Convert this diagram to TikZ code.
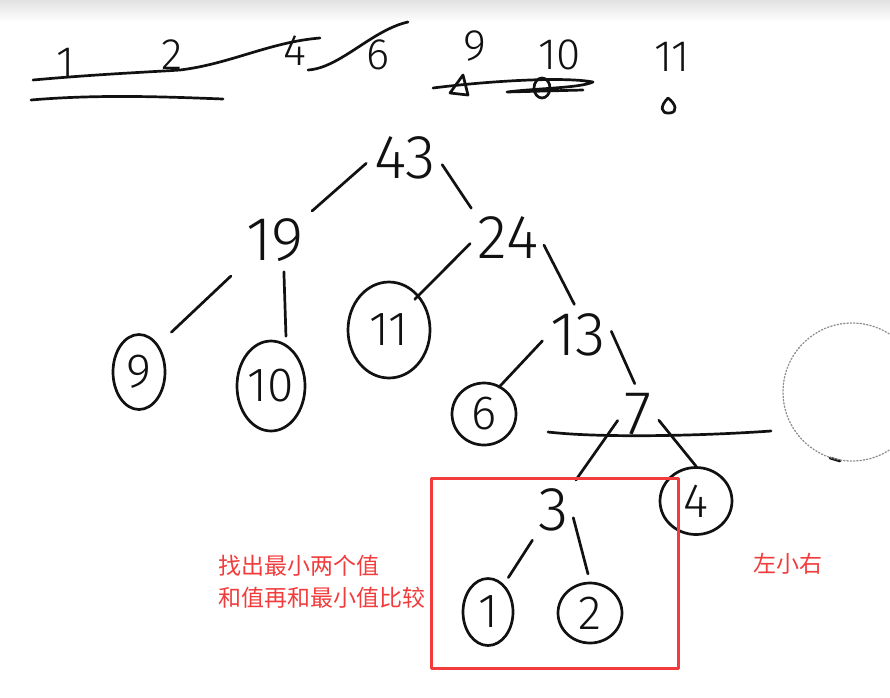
\documentclass[tikz,border=0pt]{standalone}
\usepackage{fontspec}
\setmainfont{Fira Sans}[UprightFont=* Light]
\newfontfamily\cjkfont{Noto Sans CJK SC}
\usetikzlibrary{shapes.geometric}
\definecolor{hfink}{HTML}{111111}
\definecolor{hfred}{HTML}{F23C3C}
\definecolor{hfdot}{HTML}{8C8C8C}
\definecolor{hfbar}{HTML}{E2E2E2}
\tikzset{
  hfsum/.style={
    font=\fontsize{62}{62}\selectfont, text=hfink, inner sep=2pt},
  hfleaf/.style={
    draw=hfink, ellipse, line width=2.7pt, inner sep=0pt,
    font=\fontsize{48}{48}\selectfont, text=hfink},
  hflist/.style={font=\fontsize{44}{44}\selectfont, text=hfink, inner sep=0pt},
  hfedge/.style={draw=hfink, line width=2.7pt, shorten <=8pt, shorten >=8pt},
  hfmark/.style={draw=hfink, line width=2.7pt},
  hfnote/.style={
    font=\cjkfont\fontsize{23}{32}\selectfont, text=hfred,
    anchor=west, align=left},
  every picture/.style={line cap=round, line join=round},
}
\begin{document}
\begin{tikzpicture}[x=1pt, y=-1pt]
\useasboundingbox (0,0) rectangle (890,697);
\shade[top color=hfbar, bottom color=white] (0,0) rectangle (890,22);

% Weights written down first.
\foreach \name/\val/\px/\py in {%
    l1/1/66/63, l2/2/172/55, l4/4/295/51, l6/6/378/55,
    l9/9/475/46, l10/10/560/55, l11/11/672/57} {
  \node[hflist] (\name) at (\px, \py) {\val};
}
\draw[hfmark] (33,80) .. controls (100,74) and (150,72) .. (180,70)
  .. controls (230,64) and (270,42) .. (320,38);
\draw[hfmark] (31,100) .. controls (100,94) and (170,97) .. (223,99);
\draw[hfmark] (308,70) .. controls (340,68) and (372,30) .. (408,22);
\draw[hfmark] (463,75) -- (450,93) -- (468,95) -- cycle;
\draw[hfmark] (433,88) .. controls (480,82) and (560,76) .. (593,82)
  .. controls (580,88) and (540,88) .. (507,92) -- (583,90);
\draw[hfmark] (542,88) ellipse (8 and 10);
\draw[hfmark] (668,98) .. controls (676,104) and (678,112) .. (670,113)
  .. controls (660,114) and (660,106) .. (668,98);

% Sums.
\node[hfsum] (n43) at (405,158) {43};
\node[hfsum] (n19) at (275,240) {19};
\node[hfsum] (n24) at (508,238) {24};
\node[hfsum] (n13) at (578,335) {13};
\node[hfsum] (n7)  at (638,414) {7};
\node[hfsum] (n3)  at (554,510) {3};

% Leaves.
\node[hfleaf, minimum width=52pt, minimum height=75pt] (n9)  at (139,372) {9};
\node[hfleaf, minimum width=68pt, minimum height=90pt] (n10) at (271,386) {10};
\node[hfleaf, minimum width=82pt, minimum height=96pt] (n11) at (389,330) {11};
\node[hfleaf, minimum width=64pt, minimum height=62pt] (n6)  at (484,414) {6};
\node[hfleaf, minimum width=72pt, minimum height=67pt] (n4)  at (696,501) {4};
\node[hfleaf, minimum width=50pt, minimum height=67pt] (n1)  at (488,612) {1};
\node[hfleaf, minimum width=64pt, minimum height=60pt] (n2)  at (590,613) {2};

% Branches.
\draw[hfedge] (n43.west) -- (n19.north east);
\draw[hfedge] (n43.east) -- (n24.north west);
\draw[hfedge, shorten <=18pt, shorten >=18pt] (n19.south west) -- (n9.north east);
\draw[hfedge] (n19.-70) -- (n10.70);
\draw[hfedge, shorten >=-6pt] (n24.west) -- (n11.north east);
\draw[hfedge] (n24.east) -- (n13.north);
\draw[hfedge, shorten >=-2pt] (n13.west) -- (n6.60);
\draw[hfedge] (n13.20) -- (n7.north);
\draw[hfedge] (n7.west) -- (n3.north east);
\draw[hfedge, shorten >=0pt] (n7.east) -- (n4.north);
\draw[hfedge] (n3.south west) -- (n1.60);
\draw[hfedge] (n3.east) -- (n2.north);

% Strike line through 7 and the dotted circle.
\draw[hfmark] (548,432) .. controls (600,438) and (700,436) .. (771,431);
\draw[hfmark] (830,458) -- (840,461);
\draw[hfdot, dotted, line width=1.3pt] (852,392) circle (69);

% Red notes.
\draw[hfred, line width=3pt, line cap=butt] (431,478) rectangle (678,668);
\node[hfnote] (notepair) at (215,582) {找出最小两个值\\和值再和最小值比较};
\node[hfnote] (noteorder) at (750,564) {左小右};

\end{tikzpicture}
\end{document}
